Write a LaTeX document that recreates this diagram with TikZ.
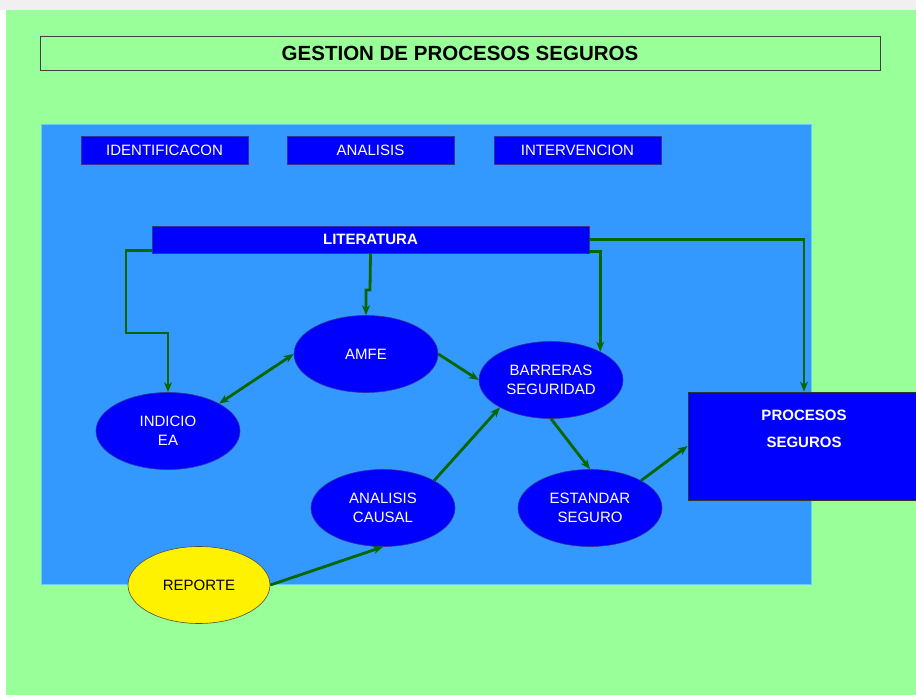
\documentclass[tikz,border=0pt]{standalone}
\usepackage{fontspec}
\setmainfont{Liberation Sans}
\usetikzlibrary{shapes.geometric,arrows.meta}
\definecolor{bggreen}{HTML}{99FF99}
\definecolor{panelblue}{HTML}{3399FF}
\definecolor{boxblue}{HTML}{0000FF}
\definecolor{connGreen}{HTML}{006600}
\definecolor{edgeblue}{HTML}{333399}
\begin{document}
\begin{tikzpicture}[x=1pt,y=-1pt,
  hdr/.style={draw=edgeblue,line width=0.8pt,fill=boxblue,text=white,minimum width=167pt,minimum height=28pt,inner sep=0pt,font=\fontsize{15}{17}\selectfont},
  ell/.style={ellipse,draw=edgeblue,line width=0.6pt,fill=boxblue,text=white,minimum width=144pt,minimum height=77pt,inner sep=0pt,align=center,font=\fontsize{15}{19}\selectfont},
  conn/.style={draw=connGreen,line width=2.8pt,-{Stealth[length=10pt,width=8pt]}},
  bconn/.style={draw=connGreen,line width=2.8pt,{Stealth[length=10pt,width=8pt]}-{Stealth[length=10pt,width=8pt]}}
]
\useasboundingbox (0,0) rectangle (916,695);
\fill[white] (0,0) rectangle (916,695);
\fill[gray!12] (0,0) rectangle (916,10);
\fill[bggreen] (6,10) rectangle (916,695);
% title
\node[draw=black!75,line width=0.8pt,fill=bggreen,minimum width=840pt,minimum height=34pt,inner sep=0pt,font=\fontsize{20.5}{22}\bfseries] (title) at (460,53) {GESTION DE PROCESOS SEGUROS};
% panel
\node[draw=cyan!60,line width=0.8pt,fill=panelblue,minimum width=770pt,minimum height=460pt,inner sep=0pt] (panel) at (426,354) {};
% headers
\node[hdr] (ident) at (164.5,150) {IDENTIFICACON};
\node[hdr] (anal) at (370.5,150) {ANALISIS};
\node[hdr] (interv) at (577.5,150) {INTERVENCION};
% literatura
\node[draw=edgeblue,line width=0.8pt,fill=boxblue,text=white,minimum width=437pt,minimum height=27pt,inner sep=0pt,font=\fontsize{15}{17}\selectfont\bfseries] (lit) at (370.5,239.5) {LITERATURA};
% ellipses
\node[ell] (amfe) at (366,354) {AMFE};
\node[ell] (barreras) at (551,380) {BARRERAS\\SEGURIDAD};
\node[ell] (indicio) at (168,431) {INDICIO\\EA};
\node[ell] (causal) at (383,508) {ANALISIS\\CAUSAL};
\node[ell] (estandar) at (590,508) {ESTANDAR\\SEGURO};
\node[ell,fill=yellow,draw=black!70,text=black,minimum width=142pt] (reporte) at (199,585) {REPORTE};
% procesos seguros
\node[draw=black!80,line width=0.8pt,fill=boxblue,minimum width=232pt,minimum height=108pt,inner sep=0pt] (procesos) at (804,446) {};
\node[text=white,align=center,font=\fontsize{15}{27}\selectfont\bfseries] (proctext) at (804,429) {PROCESOS\\SEGUROS};
% connectors
\draw[conn] ([yshift=3pt]lit.south west) -| (126,333) -| (indicio.north);
\draw[conn] (lit.south) -- (370,290) -| (amfe.north);
\draw[conn] ([yshift=2pt]lit.south east) -| (barreras.30);
\draw[conn] (lit.east) -| (procesos.north);
\draw[bconn] (amfe.west) -- (indicio.north east);
\draw[conn] (amfe.east) -- (barreras.west);
\draw[conn] (causal.north east) -- (barreras.south west);
\draw[conn] (barreras.south) -- (estandar.north);
\draw[conn] (estandar.north east) -- (procesos.west);
\draw[conn] (reporte.east) -- (causal.south);
\end{tikzpicture}
\end{document}
